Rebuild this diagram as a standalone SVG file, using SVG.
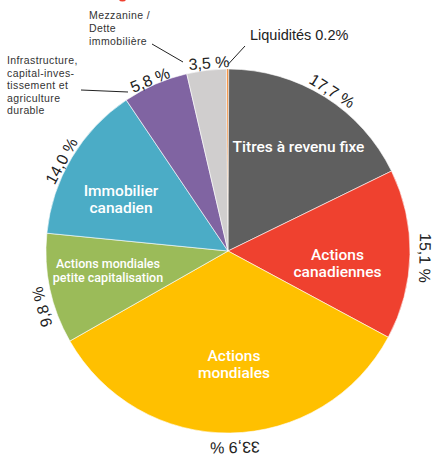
<svg xmlns="http://www.w3.org/2000/svg" width="433" height="455" viewBox="0 0 433 455">
<style>
.sl{stroke:#ffffff;stroke-width:0.6;stroke-linejoin:round}
.in{font-family:Roboto,"Liberation Sans",sans-serif;font-weight:500;fill:#ffffff;text-anchor:middle}
.pct{font-family:"Liberation Sans",Arial,sans-serif;font-size:16px;fill:#222222;text-anchor:middle}
.note{font-family:"Liberation Sans",Arial,sans-serif;font-size:10.5px;letter-spacing:0.4px;fill:#333333}
.lead{stroke:#222222;stroke-width:1;fill:none}
</style>
<rect width="433" height="455" fill="#ffffff"/>
<ellipse cx="122.5" cy="-2" rx="4" ry="3.5" fill="#EF4130"/>

<g id="liquidites">
<path class="sl" d="M228,251 L226.41,69.01 A182,182 0 0 1 228.70,69.00 Z" fill="#F79646" style="stroke:none"/>
<text x="250" y="40" style="font-family:'Liberation Sans',Arial,sans-serif;font-size:14.5px;fill:#222222">Liquidités 0.2%</text>
</g>

<g id="titres">
<path class="sl" d="M228,251 L228.70,69.00 A182,182 0 0 1 391.50,171.05 Z" fill="#5F5F5F"/>
<text class="in" x="298.5" y="152" font-size="15.5">Titres à revenu fixe</text>
<text class="pct" transform="translate(332,91) rotate(32)" y="5.5">17,7 %</text>
</g>

<g id="actions-canadiennes">
<path class="sl" d="M228,251 L391.50,171.05 A182,182 0 0 1 388.26,337.28 Z" fill="#EF412F"/>
<text class="in" x="337.5" y="260" font-size="15.5">Actions</text>
<text class="in" x="337.5" y="277" font-size="15.5">canadiennes</text>
<text class="pct" transform="translate(425,258) rotate(91)" y="5.5">15,1 %</text>
</g>

<g id="actions-mondiales">
<path class="sl" d="M228,251 L388.26,337.28 A182,182 0 0 1 69.84,341.06 Z" fill="#FFC000"/>
<text class="in" x="234" y="361" font-size="15.5">Actions</text>
<text class="in" x="234" y="378" font-size="15.5">mondiales</text>
<text class="pct" transform="translate(235,447.5) rotate(179)" y="5.5">33,9 %</text>
</g>

<g id="petite-capitalisation">
<path class="sl" d="M228,251 L69.84,341.06 A182,182 0 0 1 46.88,233.18 Z" fill="#9BBB59"/>
<text class="in" x="108" y="268" font-size="12.5">Actions mondiales</text>
<text class="in" x="108" y="282" font-size="12.5">petite capitalisation</text>
<text class="pct" transform="translate(42,307) rotate(-105)" y="5.5">9,8 %</text>
</g>

<g id="immobilier-canadien">
<path class="sl" d="M228,251 L46.88,233.18 A182,182 0 0 1 126.28,100.08 Z" fill="#4BACC6"/>
<text class="in" x="121" y="196" font-size="15.5">Immobilier</text>
<text class="in" x="121" y="213" font-size="15.5">canadien</text>
<text class="pct" transform="translate(61.5,161) rotate(-61.5)" y="5.5">14,0 %</text>
</g>

<g id="infrastructure">
<path class="sl" d="M228,251 L126.28,100.08 A182,182 0 0 1 186.75,73.74 Z" fill="#8064A2"/>
<text class="note" x="7" y="64">Infrastructure,</text>
<text class="note" x="7" y="76.5">capital-inves-</text>
<text class="note" x="7" y="89">tissement et</text>
<text class="note" x="7" y="101.5">agriculture</text>
<text class="note" x="7" y="114">durable</text>
<text class="pct" transform="translate(150,80) rotate(-23)" y="5.5">5,8 %</text>
</g>

<g id="mezzanine">
<path class="sl" d="M228,251 L186.75,73.74 A182,182 0 0 1 226.41,69.01 Z" fill="#D0CECE"/>
<text class="note" x="89" y="19">Mezzanine /</text>
<text class="note" x="89" y="32">Dette</text>
<text class="note" x="89" y="45">immobilière</text>
<text class="pct" transform="translate(209,63) rotate(-4)" y="5.5">3,5 %</text>
</g>

<g id="connectors">
<line class="lead" x1="152" y1="44" x2="183" y2="62"/>
<line class="lead" x1="228" y1="64.5" x2="245" y2="46"/>
<line class="lead" x1="81" y1="90" x2="128" y2="92"/>
</g>
</svg>
